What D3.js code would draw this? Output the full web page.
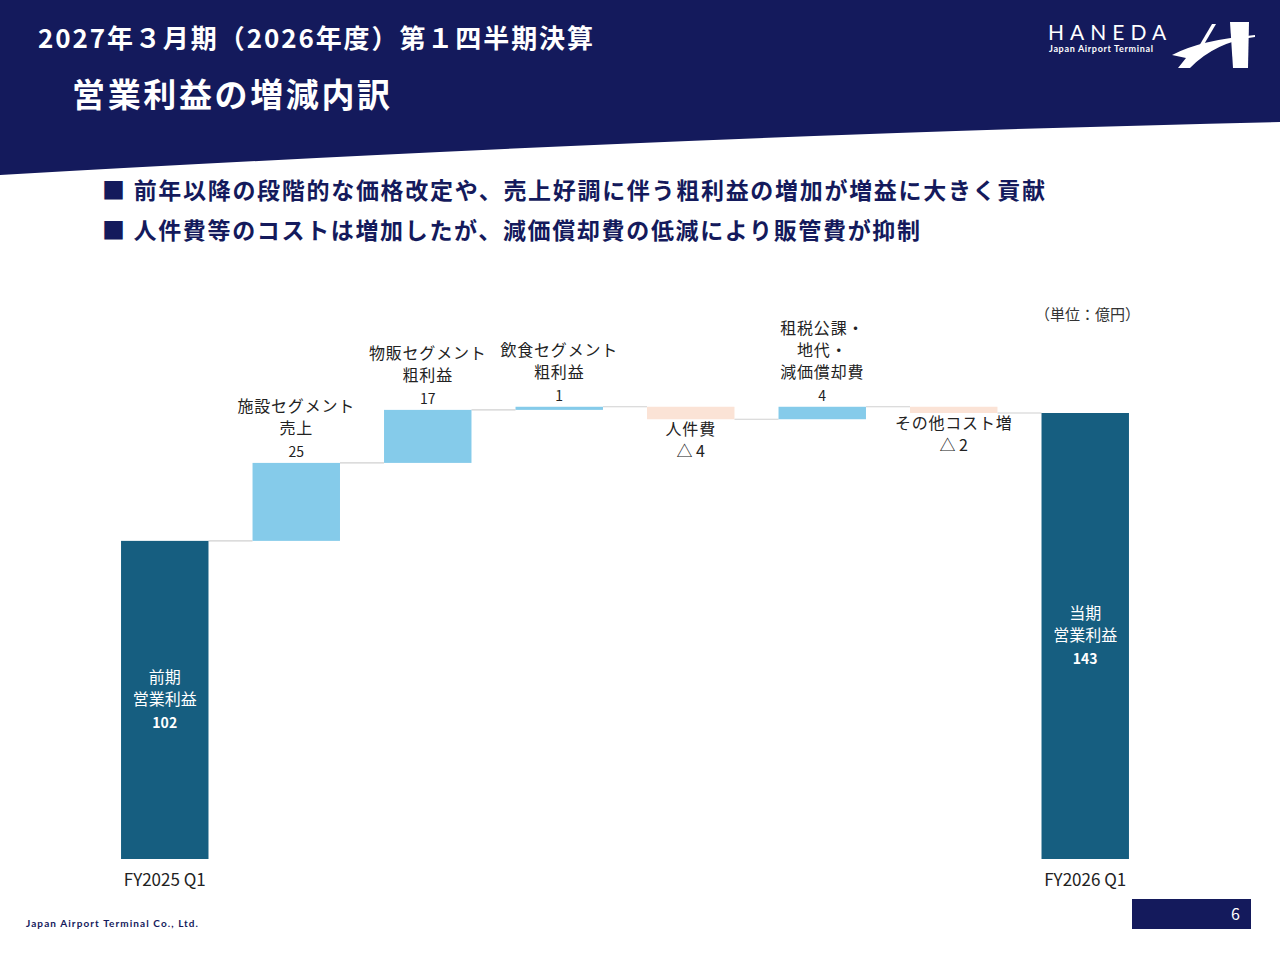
<!DOCTYPE html>
<html lang="ja">
<head>
<meta charset="UTF-8">
<style>
  html, body { margin: 0; padding: 0; background: #fff; }
  svg { display: block; font-family: "Noto Sans CJK JP", "Noto Sans", sans-serif; }
</style>
<script src="https://d3js.org/d3.v7.min.js"></script>
</head>
<body>
<svg width="1280" height="960"></svg>
<script>
// data
var categories = ["FY2025 Q1", "施設セグメント\n売上", "物販セグメント\n粗利益", "飲食セグメント\n粗利益", "人件費", "租税公課・\n地代・\n減価償却費", "その他コスト増", "FY2026 Q1"];
var deltas = [102, 25, 17, 1, -4, 4, -2, 143];
var valueLabels = ["102", "25", "17", "1", "△ 4", "4", "△ 2", "143"];
var totalLabels = { 0: "前期\n営業利益", 7: "当期\n営業利益" };

var svg = d3.select("svg");
var navy = "#141a5c";

// header band
svg.append("path").attr("d", "M0,0 H1280 V122 Q700,135 0,175 Z").attr("fill", navy);
svg.append("text").attr("x", 38).attr("y", 48).attr("fill", "#fff").attr("font-size", 26).attr("font-weight", "bold")
  .attr("textLength", 555).text("2027年３月期（2026年度）第１四半期決算");
svg.append("text").attr("x", 72).attr("y", 107).attr("fill", "#fff").attr("font-size", 33).attr("font-weight", "bold")
  .attr("textLength", 318).text("営業利益の増減内訳");
// logo
svg.append("text").attr("x", 1048).attr("y", 40).attr("fill", "#fff").attr("font-size", 21).attr("font-family", "Lato, sans-serif")
  .attr("letter-spacing", 6).text("HANEDA");
svg.append("text").attr("x", 1049).attr("y", 52).attr("fill", "#fff").attr("font-size", 9).attr("font-family", "Lato, sans-serif")
  .attr("font-weight", "bold").attr("textLength", 104).text("Japan Airport Terminal");
svg.append("path").attr("d", "M1230,22 L1249,22 L1248,68 L1233,68 Z").attr("fill", "#fff");
svg.append("path").attr("d", "M1172,55 Q1200,40 1255,35 L1255,37 Q1215,42 1190,68 L1178,68 L1186,58 Z").attr("fill", "#fff");
svg.append("path").attr("d", "M1212,24 L1216,24 L1196,58 L1192,58 Z").attr("fill", "#fff");

// bullets
var bullets = ["■ 前年以降の段階的な価格改定や、売上好調に伴う粗利益の増加が増益に大きく貢献",
               "■ 人件費等のコストは増加したが、減価償却費の低減により販管費が抑制"];
var bulletLen = [943, 818];
bullets.forEach(function (b, i) {
  svg.append("text").attr("x", 102).attr("y", 199 + i * 40).attr("fill", navy).attr("font-size", 23)
    .attr("font-weight", "bold").attr("textLength", bulletLen[i]).text(b);
});
svg.append("text").attr("x", 1140).attr("y", 320).attr("text-anchor", "end").attr("font-size", 15).attr("fill", "#333")
  .text("（単位：億円）");

// compute waterfall
var bars = [], run = 0;
deltas.forEach(function (d, i) {
  var isTotal = (i === 0 || i === deltas.length - 1);
  var start = isTotal ? 0 : run;
  var end = isTotal ? d : run + d;
  run = end;
  bars.push({ i: i, start: start, end: end, total: isTotal, neg: !isTotal && d < 0 });
});

var x = d3.scaleBand().domain(d3.range(categories.length)).range([100, 1150]).paddingInner(0.335).paddingOuter(0.16);
var y = d3.scaleLinear().domain([0, 143]).range([859, 413]);

var g = svg.append("g");
// connectors
bars.slice(0, -1).forEach(function (b, k) {
  g.append("line").attr("x1", x(k) + x.bandwidth()).attr("x2", x(k + 1))
    .attr("y1", y(b.end)).attr("y2", y(b.end)).attr("stroke", "#d0d0d0").attr("stroke-width", 1.2);
});
g.selectAll("rect.bar").data(bars).enter().append("rect")
  .attr("x", function (d) { return x(d.i); })
  .attr("width", x.bandwidth())
  .attr("y", function (d) { return y(Math.max(d.start, d.end)); })
  .attr("height", function (d) { return Math.max(3, Math.abs(y(d.start) - y(d.end))); })
  .attr("fill", function (d) { return d.total ? "#165e80" : d.neg ? "#fbe3d6" : "#85cbea"; });

// labels
bars.forEach(function (b) {
  var cx = x(b.i) + x.bandwidth() / 2;
  if (b.total) {
    var lines = totalLabels[b.i].split("\n");
    var midY = (y(b.end) + y(0)) / 2 - 17;
    lines.forEach(function (l, j) {
      svg.append("text").attr("x", cx).attr("y", midY + j * 22).attr("text-anchor", "middle")
        .attr("fill", "#fff").attr("font-size", 16).text(l);
    });
    svg.append("text").attr("x", cx).attr("y", midY + lines.length * 22 + 1).attr("text-anchor", "middle")
      .attr("fill", "#fff").attr("font-size", 14).attr("font-weight", "bold").text(valueLabels[b.i]);
    svg.append("text").attr("x", cx).attr("y", 886).attr("text-anchor", "middle")
      .attr("fill", "#222").attr("font-size", 17).text(categories[b.i]);
  } else if (!b.neg) {
    var top = y(Math.max(b.start, b.end));
    var lines2 = categories[b.i].split("\n");
    svg.append("text").attr("x", cx).attr("y", top - 6).attr("text-anchor", "middle")
      .attr("fill", "#222").attr("font-size", 14).text(valueLabels[b.i]);
    lines2.forEach(function (l, j) {
      svg.append("text").attr("x", cx).attr("y", top - 29 - (lines2.length - 1 - j) * 22).attr("text-anchor", "middle")
        .attr("fill", "#222").attr("font-size", 16).attr("letter-spacing", 0.8).text(l);
    });
  } else {
    var bot = y(Math.min(b.start, b.end));
    svg.append("text").attr("x", cx).attr("y", bot + 16).attr("text-anchor", "middle")
      .attr("fill", "#222").attr("font-size", 16).attr("letter-spacing", 0.8).text(categories[b.i]);
    svg.append("text").attr("x", cx).attr("y", bot + 38).attr("text-anchor", "middle")
      .attr("fill", "#222").attr("font-size", 16).text(valueLabels[b.i]);
  }
});

// footer
svg.append("text").attr("x", 26).attr("y", 927).attr("font-size", 10).attr("font-weight", "bold")
  .attr("fill", navy).attr("font-family", "Lato, sans-serif").attr("textLength", 172).text("Japan Airport Terminal Co., Ltd.");
svg.append("rect").attr("x", 1132).attr("y", 899).attr("width", 119).attr("height", 30).attr("fill", navy);
svg.append("text").attr("x", 1240).attr("y", 920).attr("text-anchor", "end").attr("fill", "#fff").attr("font-size", 16).text("6");
</script>
</body>
</html>
